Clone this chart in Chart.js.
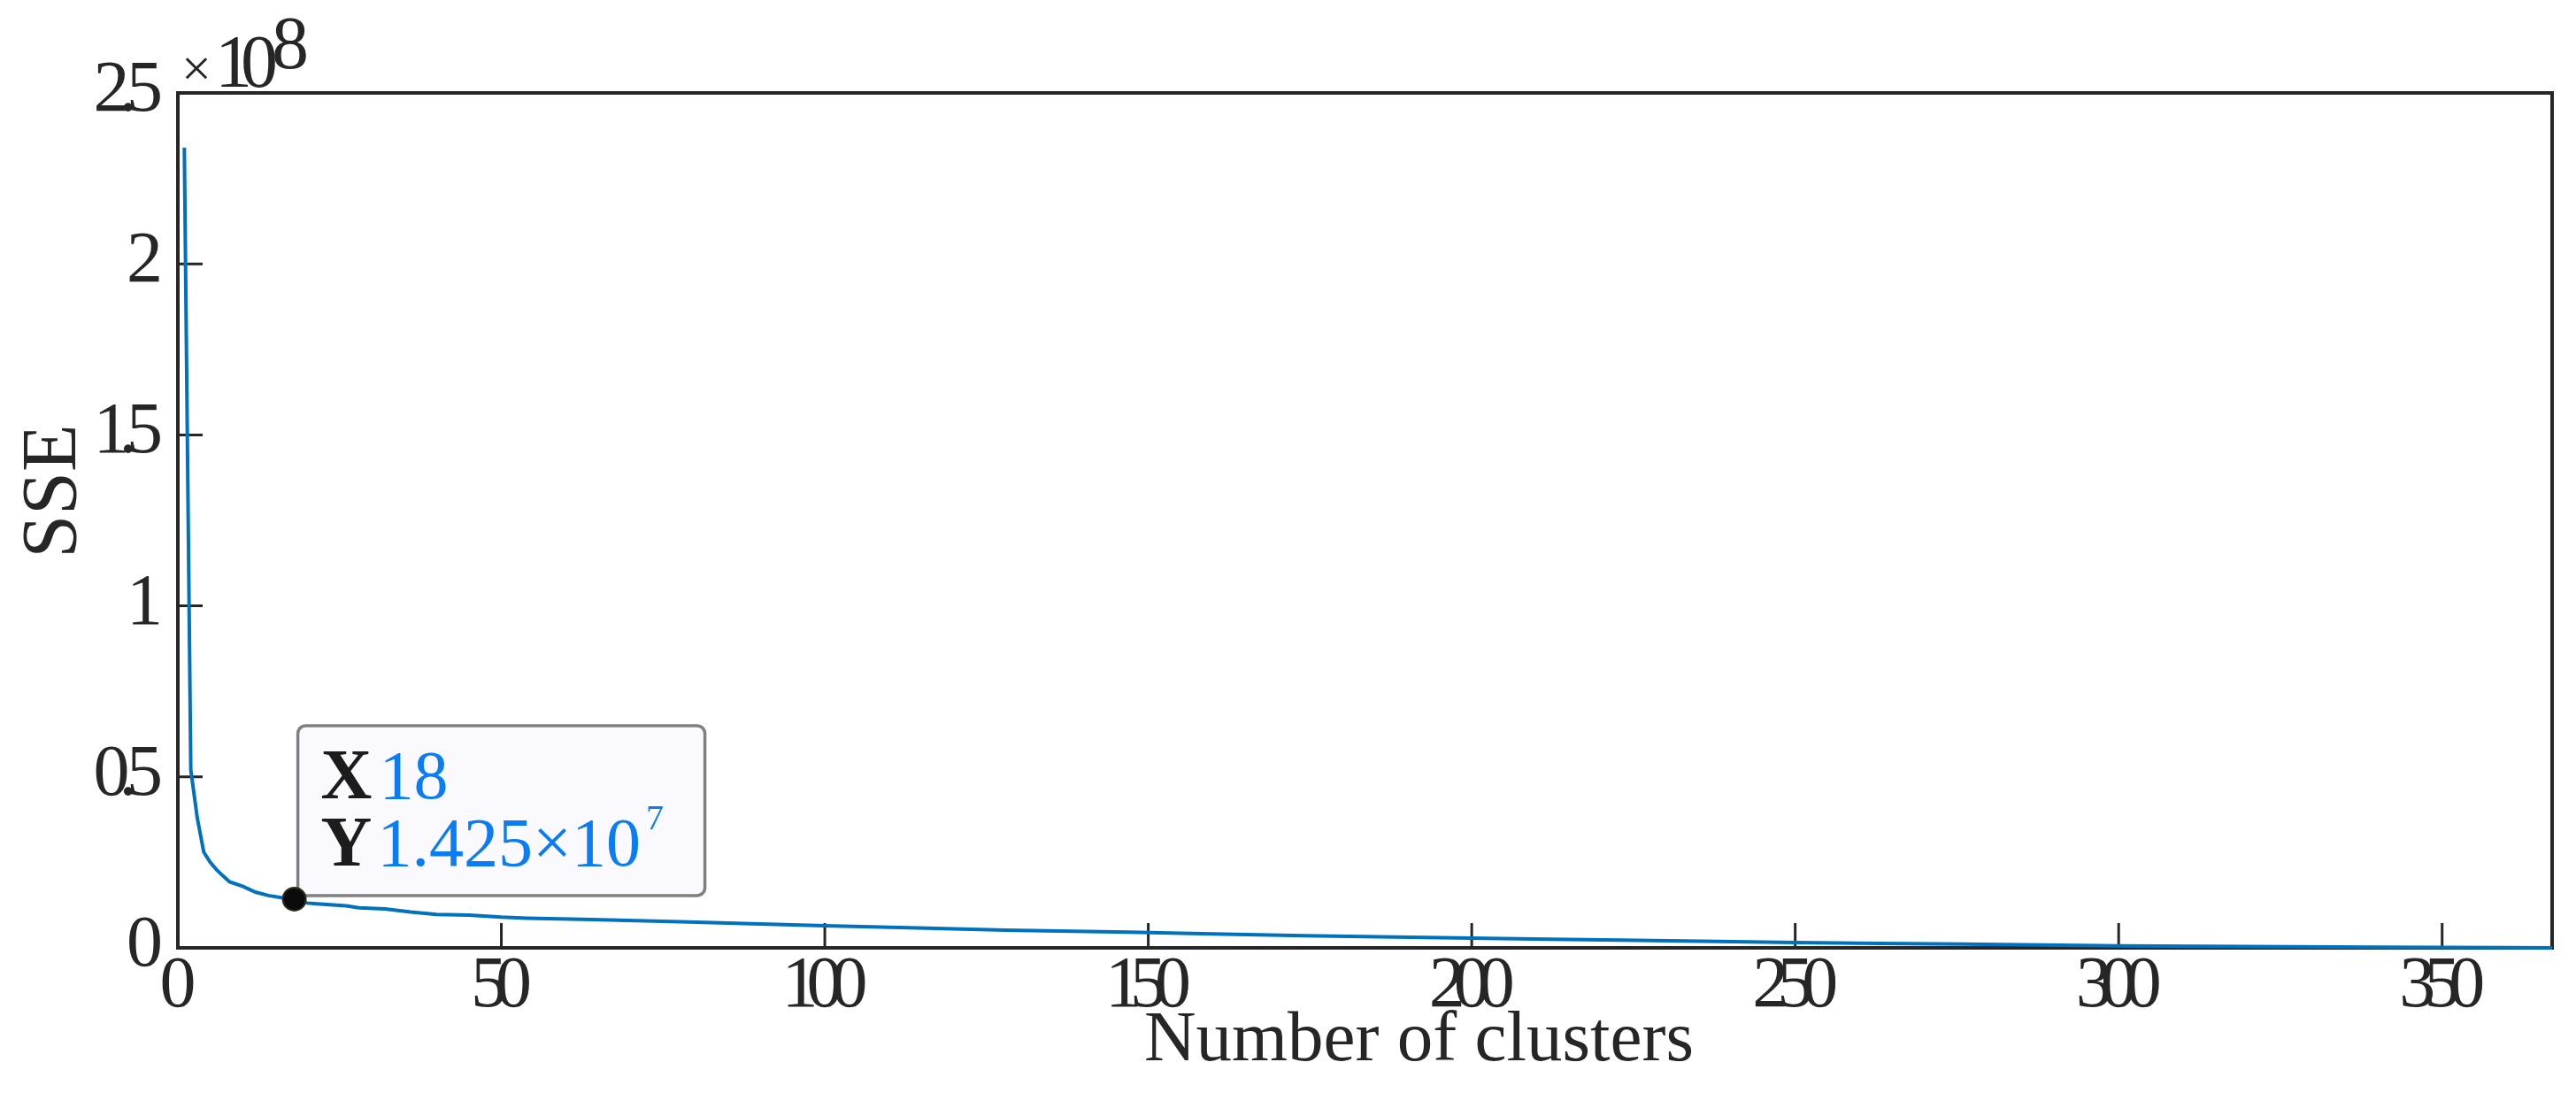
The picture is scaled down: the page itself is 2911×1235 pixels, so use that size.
<!DOCTYPE html>
<html>
<head>
<meta charset="utf-8">
<title>SSE vs number of clusters</title>
<script src="https://cdn.jsdelivr.net/npm/chart.js@4.4.1/dist/chart.umd.min.js"></script>
<style>
  html, body { margin: 0; padding: 0; background: #fff; }
</style>
</head>
<body>
<canvas id="sse-chart" width="2911" height="1235"></canvas>
<script>
// number of clusters (x) and SSE in units of 1e8 (y)
var clusters = [1, 2, 3, 4, 5, 6, 7, 8, 10, 12, 14, 16, 18, 20, 22, 26, 28, 32, 36, 40, 45, 50, 54, 64, 79, 90,
  100, 113, 128, 147, 160, 174, 188, 200, 212, 223, 238, 250, 263, 276, 288, 300, 313, 327, 340, 350, 360, 367];
var sse = [2.34, 0.52, 0.38, 0.28, 0.25, 0.228, 0.21, 0.193, 0.18, 0.163, 0.153, 0.147, 0.1425, 0.131, 0.128, 0.123, 0.117,
  0.114, 0.105, 0.098, 0.096, 0.090, 0.087, 0.083, 0.076, 0.070,
  0.065, 0.059, 0.052, 0.046, 0.041, 0.0354, 0.032, 0.0285, 0.025, 0.0225, 0.019, 0.0155, 0.013, 0.011, 0.0085, 0.006,
  0.0045, 0.003, 0.0018, 0.001, 0.0005, 0.0];

var xTicks = [0, 50, 100, 150, 200, 250, 300, 350];
var yTicks = [0, 0.5, 1, 1.5, 2, 2.5];
var yTickLabels = ['0', '0.5', '1', '1.5', '2', '2.5'];

// data tip
var tipX = 18;
var tipY = 0.1425;
var tipYText = '1.425\u00d710';
var tipYExp = '7';

var xTitle = 'Number of clusters';
var yTitle = 'SSE';

var serif = '"Liberation Serif", "Times New Roman", serif';
var ink = '#262626';

var points = [];
for (var i = 0; i < clusters.length; i++) {
  points.push({ x: clusters[i], y: sse[i] });
}

// numbers in the figure are drawn with the digits pushed together
function tightWidth(ctx, s, gap) {
  var w = 0;
  for (var c = 0; c < s.length; c++) w += ctx.measureText(s[c]).width + (c ? gap : 0);
  return w;
}
function drawTight(ctx, s, x, y, gap) {
  for (var c = 0; c < s.length; c++) {
    ctx.fillText(s[c], x, y);
    x += ctx.measureText(s[c]).width + gap;
  }
}

// box, inward ticks, labels
var frame = {
  id: 'frame',
  beforeDatasetsDraw: function(chart) {
    var ctx = chart.ctx;
    var a = chart.chartArea;
    var xs = chart.scales.x;
    var ys = chart.scales.y;
    ctx.save();
    ctx.strokeStyle = ink;
    ctx.lineWidth = 4;
    ctx.strokeRect(a.left, a.top, a.right - a.left, a.bottom - a.top);

    ctx.lineWidth = 3;
    ctx.beginPath();
    xTicks.forEach(function(v) {
      var px = xs.getPixelForValue(v);
      ctx.moveTo(px, a.bottom);
      ctx.lineTo(px, a.bottom - 28);
    });
    yTicks.forEach(function(v) {
      var py = ys.getPixelForValue(v);
      ctx.moveTo(a.left, py);
      ctx.lineTo(a.left + 28, py);
    });
    ctx.stroke();

    ctx.fillStyle = ink;
    ctx.textBaseline = 'alphabetic';
    ctx.textAlign = 'left';
    ctx.font = '82px ' + serif;

    // y tick labels, right aligned
    yTicks.forEach(function(v, k) {
      var s = yTickLabels[k];
      var w = tightWidth(ctx, s, -12);
      drawTight(ctx, s, a.left - 17 - w, ys.getPixelForValue(v) + 20, -12);
    });

    // x tick labels, centred
    xTicks.forEach(function(v) {
      var s = String(v);
      var w = tightWidth(ctx, s, -13);
      drawTight(ctx, s, xs.getPixelForValue(v) - w / 2, a.bottom + 66, -13);
    });

    // axis titles
    ctx.font = '81px ' + serif;
    ctx.textAlign = 'center';
    ctx.fillText(xTitle, (a.left + a.right) / 2 + 61, a.bottom + 127);

    ctx.save();
    ctx.translate(85, (a.top + a.bottom) / 2 - 33);
    ctx.rotate(-Math.PI / 2);
    ctx.font = '88px ' + serif;
    ctx.fillText(yTitle, 0, 0);
    ctx.restore();

    // exponent x10^8
    ctx.textAlign = 'left';
    ctx.font = '60px ' + serif;
    ctx.fillText('\u00d7', a.left + 4, a.top - 8);
    ctx.font = '84px ' + serif;
    drawTight(ctx, '10', a.left + 42, a.top - 7, -13);
    ctx.fillText('8', a.left + 106, a.top - 28);
    ctx.restore();
  },
  afterDatasetDraw: function(chart, args) {
    if (args.index !== 1) return;
    var ctx = chart.ctx;
    var px = chart.scales.x.getPixelForValue(tipX);
    var py = chart.scales.y.getPixelForValue(tipY);
    var bx = px + 4, by = py - 196, bw = 460, bh = 192;
    ctx.save();
    ctx.beginPath();
    ctx.roundRect(bx, by, bw, bh, 9);
    ctx.fillStyle = '#f9f9fe';
    ctx.fill();
    ctx.lineWidth = 3.5;
    ctx.strokeStyle = '#808080';
    ctx.stroke();

    ctx.textAlign = 'left';
    ctx.textBaseline = 'alphabetic';
    ctx.fillStyle = '#1c1c1c';
    ctx.font = 'bold 80px ' + serif;
    ctx.fillText('X', px + 30, py - 114);
    ctx.fillText('Y', px + 30, py - 38);

    ctx.fillStyle = '#0a7df5';
    ctx.font = '78px ' + serif;
    ctx.fillText(String(tipX), px + 96, py - 114);
    ctx.fillText(tipYText, px + 94, py - 38);
    var w = ctx.measureText(tipYText).width;
    ctx.font = '40px ' + serif;
    ctx.fillText(tipYExp, px + 94 + w + 6, py - 79);
    ctx.restore();
  }
};

var ctx = document.getElementById('sse-chart').getContext('2d');

var chart = new Chart(ctx, {
  type: 'line',
  data: {
    datasets: [
      {
        label: 'Data tip',
        data: [{ x: tipX, y: tipY }],
        showLine: false,
        pointRadius: 13,
        pointBackgroundColor: '#0b0b0b',
        pointBorderColor: '#2e2e1f',
        pointBorderWidth: 2,
        clip: false
      },
      {
        label: 'SSE',
        data: points,
        borderColor: '#0072BD',
        borderWidth: 4,
        pointRadius: 0,
        tension: 0,
        fill: false,
        clip: false
      }
    ]
  },
  options: {
    responsive: false,
    animation: false,
    events: [],
    layout: {
      padding: { left: 201, right: 27, top: 105, bottom: 164 }
    },
    plugins: {
      legend: { display: false },
      tooltip: { enabled: false }
    },
    scales: {
      x: {
        type: 'linear',
        min: 0,
        max: 367,
        grid: { display: false, drawTicks: false },
        border: { display: false },
        ticks: { display: false },
        afterBuildTicks: function(scale) {
          scale.ticks = xTicks.map(function(v) { return { value: v }; });
        }
      },
      y: {
        type: 'linear',
        min: 0,
        max: 2.5,
        grid: { display: false, drawTicks: false },
        border: { display: false },
        ticks: { display: false },
        afterBuildTicks: function(scale) {
          scale.ticks = yTicks.map(function(v) { return { value: v }; });
        }
      }
    }
  },
  plugins: [frame]
});
</script>
</body>
</html>
